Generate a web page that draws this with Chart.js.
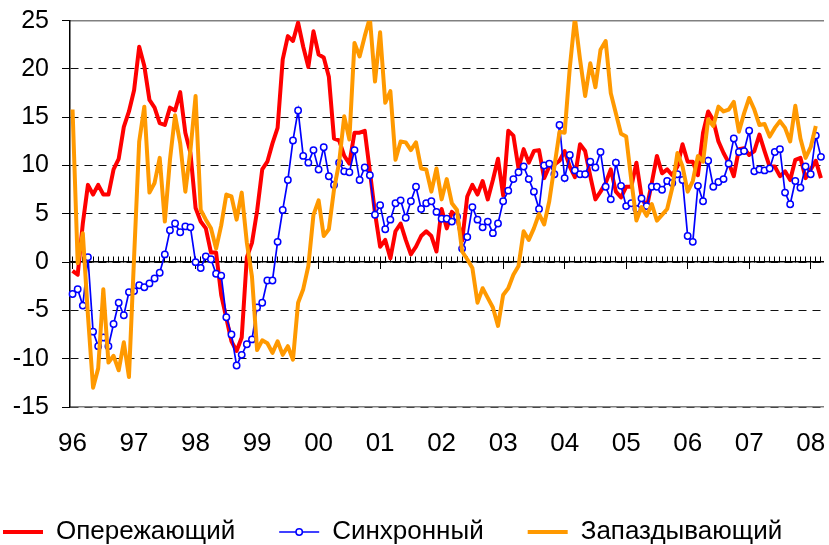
<!DOCTYPE html>
<html lang="ru">
<head>
<meta charset="utf-8">
<title>Опережающий, синхронный и запаздывающий индексы</title>
<script src="https://cdn.jsdelivr.net/npm/chart.js@4.4.1/dist/chart.umd.min.js"></script>
<style>
    html, body { margin: 0; padding: 0; background: #fff; }
    #wrap { width: 829px; height: 545px; }
</style>
</head>
<body>
<div id="wrap"><canvas id="chart" width="829" height="545"></canvas></div>
<script>
// year tick labels, one per January; the last year only has 3 months
const yearLabels = ['96', '97', '98', '99', '00', '01', '02', '03', '04', '05', '06', '07', '08'];
const monthsInLastYear = 3;

// monthly values, Jan 1996 .. Mar 2008
const leading = [
    -0.9, -1.3, 4.0, 8.0, 7.0, 8.0, 7.0, 7.0, 9.6, 10.7, 14.0, 15.6,
    17.8, 22.3, 20.3, 16.8, 16.0, 14.4, 14.2, 16.0, 15.7, 17.6, 13.4, 11.3,
    5.6, 4.2, 3.5, 1.0, 1.0, -3.4, -5.8, -8.2, -9.2, -7.8, 0.5, 2.0,
    5.3, 9.6, 10.4, 12.3, 13.9, 21.0, 23.4, 22.9, 24.8, 22.3, 20.2, 23.9,
    21.5, 21.2, 19.2, 12.8, 12.6, 11.0, 10.2, 13.4, 13.4, 13.6, 9.4, 5.1,
    1.6, 2.3, 0.4, 3.2, 4.0, 2.3, 0.8, 1.6, 2.7, 3.2, 2.7, 1.1,
    5.5, 3.5, 5.2, 4.7, 2.2, 6.8, 8.0, 7.0, 8.4, 6.5, 8.5, 10.7,
    6.9, 13.6, 13.1, 9.7, 11.7, 10.3, 11.5, 11.6, 8.7, 9.9, 10.1, 10.5,
    11.5, 9.9, 8.8, 12.2, 11.5, 8.9, 6.5, 7.3, 8.2, 9.6, 7.3, 6.7,
    7.8, 7.8, 10.3, 6.8, 5.6, 8.2, 11.0, 9.2, 9.6, 9.0, 9.9, 12.2,
    10.4, 10.4, 9.0, 13.4, 15.6, 14.7, 12.5, 11.3, 10.3, 8.9, 11.7, 11.8,
    11.1, 11.5, 13.2, 11.5, 9.9, 9.9, 8.9, 9.4, 8.5, 10.6, 10.8, 8.7,
    9.6, 10.5, 8.7
];

const coincident = [
    -3.3, -2.8, -4.5, 0.5, -7.2, -8.7, -7.8, -8.7, -6.4, -4.2, -5.5, -3.1,
    -3.0, -2.4, -2.6, -2.2, -1.7, -1.1, 0.8, 3.3, 4.0, 3.1, 3.7, 3.6,
    0.0, -0.6, 0.6, 0.3, -1.2, -1.4, -5.7, -7.5, -10.7, -9.6, -8.5, -8.0,
    -4.7, -4.2, -1.9, -1.9, 2.1, 5.4, 8.5, 12.6, 15.7, 11.0, 10.3, 11.6,
    9.6, 11.9, 8.9, 8.0, 10.3, 9.4, 9.3, 11.6, 8.5, 9.8, 9.0, 4.9,
    5.9, 3.4, 4.4, 6.1, 6.4, 4.6, 6.3, 7.8, 5.5, 6.1, 6.3, 5.2,
    4.5, 4.5, 4.2, 4.7, 1.4, 2.6, 5.7, 4.4, 3.6, 4.2, 3.0, 4.0,
    6.3, 7.4, 8.6, 9.3, 9.9, 8.6, 7.3, 5.5, 10.0, 10.2, 9.1, 14.2,
    8.7, 11.1, 9.5, 9.1, 9.1, 10.4, 9.8, 11.4, 7.8, 6.5, 10.3, 7.9,
    5.8, 6.1, 5.5, 6.6, 5.8, 7.8, 7.8, 7.5, 8.4, 8.2, 9.1, 8.5,
    2.7, 2.1, 7.9, 6.3, 10.5, 7.8, 8.3, 8.6, 10.2, 12.8, 11.4, 11.5,
    13.6, 9.4, 9.6, 9.5, 9.7, 11.4, 11.7, 7.2, 6.0, 8.4, 7.7, 9.9,
    9.1, 13.1, 10.9
];

const lagging = [
    15.8, -0.1, 3.0, -5.5, -13.0, -11.0, -2.8, -10.4, -9.7, -11.2, -8.3, -11.9,
    0.5, 12.5, 16.1, 7.2, 8.2, 10.8, 4.2, 10.6, 15.2, 12.3, 7.3, 11.6,
    17.2, 5.4, 4.4, 3.5, 1.4, 3.8, 7.0, 6.8, 4.4, 7.2, 2.0, -1.5,
    -9.1, -8.1, -8.4, -9.4, -8.2, -9.6, -8.7, -10.1, -4.2, -2.8, -0.4, 4.9,
    6.4, 2.7, 3.4, 7.5, 10.3, 15.1, 12.7, 22.7, 21.3, 23.4, 25.3, 18.7,
    23.8, 16.5, 17.7, 10.6, 12.5, 12.4, 11.6, 12.4, 9.7, 9.6, 7.3, 9.7,
    6.5, 8.6, 6.1, 5.4, 1.1, 0.3, -0.6, -4.2, -2.7, -3.7, -4.7, -6.6,
    -3.4, -2.7, -1.3, -0.4, 3.2, 2.3, 3.5, 5.0, 3.9, 6.3, 9.9, 13.5,
    13.4, 20.1, 25.3, 21.0, 17.2, 20.6, 18.1, 22.0, 22.9, 17.5, 15.4, 13.3,
    13.0, 8.5, 4.3, 5.7, 4.8, 6.0, 4.3, 4.9, 5.5, 7.7, 11.3, 9.9,
    7.3, 8.4, 11.0, 10.4, 14.8, 14.1, 16.1, 15.6, 15.8, 16.6, 13.5, 15.4,
    17.0, 15.8, 14.2, 14.3, 13.0, 13.9, 14.6, 13.9, 12.5, 16.2, 12.8, 10.8,
    11.9, 14.1, null
];

// month categories built from the year labels
const categories = [];
yearLabels.forEach((yy, k) => {
    const n = k === yearLabels.length - 1 ? monthsInLastYear : 12;
    for (let m = 1; m <= n; m++) {
        categories.push(yy + '-' + String(m).padStart(2, '0'));
    }
});

const FONT = 'Arial, "Liberation Sans", sans-serif';

// small circle on the "Синхронный" legend line
const legendMarker = {
    id: 'legendMarker',
    afterDraw(chart) {
        const legend = chart.legend;
        if (!legend || !legend.legendHitBoxes) return;
        const ctx = chart.ctx;
        legend.legendItems.forEach((item, i) => {
            const ds = chart.data.datasets[item.datasetIndex];
            if (!ds.pointRadius) return;
            const box = legend.legendHitBoxes[i];
            ctx.save();
            ctx.beginPath();
            ctx.arc(box.left + 20, box.top + box.height / 2, ds.pointRadius, 0, Math.PI * 2);
            ctx.fillStyle = ds.pointBackgroundColor;
            ctx.fill();
            ctx.lineWidth = ds.pointBorderWidth;
            ctx.strokeStyle = ds.borderColor;
            ctx.stroke();
            ctx.restore();
        });
    }
};

new Chart(document.getElementById('chart'), {
    type: 'line',
    data: {
        labels: categories,
        datasets: [{
            label: 'Опережающий', data: leading, xAxisID: 'x',
            borderColor: '#ff0000', borderWidth: 4, pointRadius: 0, borderJoinStyle: 'round', order: 3
        }, {
            label: 'Синхронный', data: coincident, xAxisID: 'x',
            borderColor: '#0000ff', borderWidth: 1.7, pointRadius: 3.2,
            pointBackgroundColor: '#ffffff', pointBorderColor: '#0000ff', pointBorderWidth: 1.5, order: 2
        }, {
            label: 'Запаздывающий', data: lagging, xAxisID: 'x',
            borderColor: '#ff9900', borderWidth: 4, pointRadius: 0, borderJoinStyle: 'round', order: 1
        }]
    },
    options: {
        responsive: false,
        animation: false,
        // negative left padding only widens the legend row; the y axis width below puts the plot back at x=70
        layout: { padding: { left: -41, right: -0.5, top: 20.7, bottom: 0 } },
        plugins: {
            tooltip: { enabled: false },
            legend: {
                position: 'bottom',
                align: 'start',
                maxHeight: 70,
                labels: {
                    usePointStyle: true,
                    pointStyleWidth: 40,
                    padding: 44,
                    color: '#000',
                    font: { family: FONT, size: 26 },
                    generateLabels: chart => chart.data.datasets.map((d, i) => ({
                        text: d.label, datasetIndex: i,
                        strokeStyle: d.borderColor, fillStyle: d.borderColor,
                        lineWidth: d.borderWidth, pointStyle: 'line', hidden: false, fontColor: '#000'
                    }))
                }
            }
        },
        scales: {
            x: {
                type: 'category', position: 'bottom', offset: true,
                grid: { display: false, drawTicks: false },
                border: { display: true, color: '#808080', width: 1.5 },
                ticks: {
                    autoSkip: false, maxRotation: 0, padding: 21, color: '#000',
                    font: { family: FONT, size: 26 },
                    callback: (value, index) => {
                        const c = categories[index];
                        return c.endsWith('-01') ? c.slice(0, 2) : '';
                    }
                },
                afterFit: scale => {
                    scale.height = 68;
                    scale.paddingLeft = 0;
                    scale.paddingRight = 0;
                }
            },
            // gray frame line along the top of the plot
            xTop: {
                type: 'category', position: 'top', offset: true,
                grid: { display: false, drawTicks: false },
                ticks: { display: false },
                border: { display: true, color: '#808080', width: 1.5 }
            },
            // zero line with a small tick for every month
            xZero: {
                type: 'category', position: { y: 0 }, offset: true,
                ticks: { display: false },
                grid: { drawOnChartArea: false, drawTicks: true, tickLength: -6, tickWidth: 1, tickColor: '#000' },
                border: { display: true, color: '#000', width: 1.5 }
            },
            // longer tick below the zero line at each year boundary
            xYear: {
                type: 'category', position: { y: 0 }, offset: true,
                ticks: { display: false },
                grid: {
                    drawOnChartArea: false, drawTicks: true, tickLength: 7, tickWidth: 1,
                    tickColor: c => (c.index % 12 === 0 ? '#000' : 'rgba(0,0,0,0)')
                },
                border: { display: false }
            },
            y: {
                min: -15, max: 25, position: 'left',
                ticks: { stepSize: 5, padding: 13, color: '#000', font: { family: FONT, size: 25 } },
                grid: { color: '#111', lineWidth: 1, tickLength: 8, tickWidth: 1, tickColor: '#000' },
                border: { display: true, color: '#000', width: 1.5, dash: [8, 6] },
                afterFit: scale => {
                    scale.width = 111;
                    scale.paddingTop = 0;
                    scale.paddingBottom = 0;
                }
            }
        }
    },
    plugins: [legendMarker]
});
</script>
</body>
</html>
